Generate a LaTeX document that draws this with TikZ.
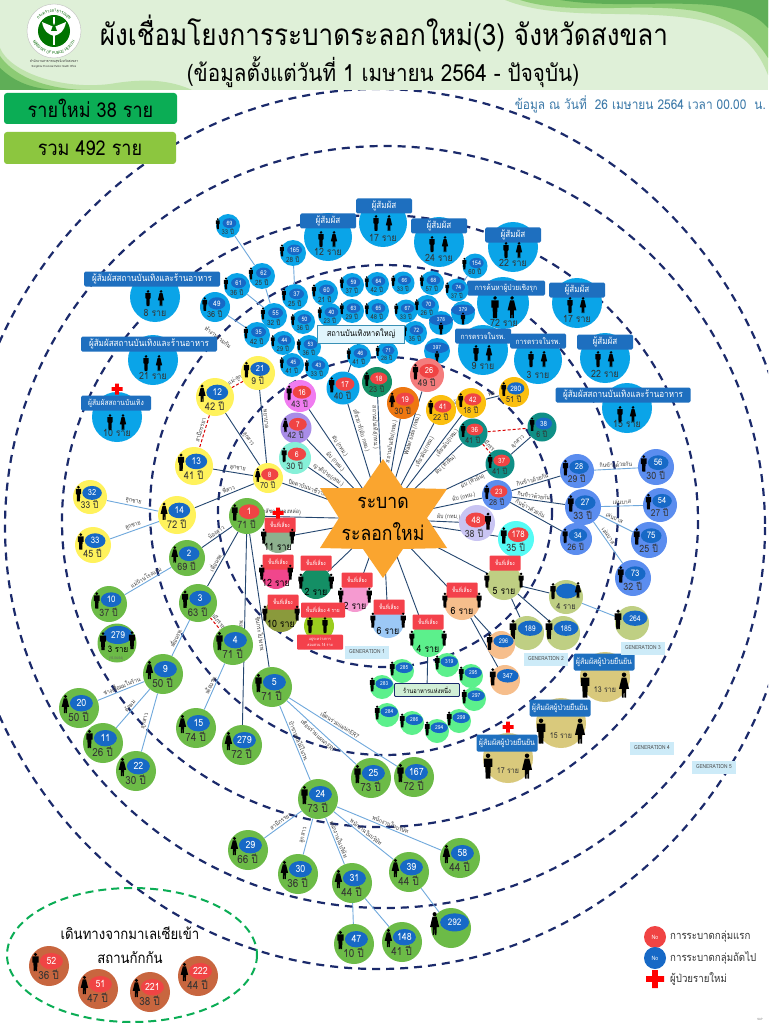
\documentclass[tikz,border=0pt]{standalone}
\usepackage{fontspec}
\setmainfont[Script=Thai,FakeStretch=.88]{Loma}
\usetikzlibrary{shapes.geometric,decorations.text}
\pgfdeclarelayer{rings}\pgfdeclarelayer{edges}\pgfsetlayers{rings,edges,main}
\definecolor{ringc}{HTML}{1B2A6B}
\definecolor{navyl}{HTML}{24466F}
\definecolor{ltl}{HTML}{6FA8DC}
\definecolor{clblue}{HTML}{0AA4E8}
\definecolor{ovb}{HTML}{1769C6}
\definecolor{ovr}{HTML}{F04444}
\definecolor{yel}{HTML}{FFF25C}
\definecolor{amb}{HTML}{FBBF0F}
\definecolor{grn}{HTML}{6CBB47}
\definecolor{peri}{HTML}{5B8DEF}
\definecolor{teal2}{HTML}{0F8F86}
\definecolor{hdrb}{HTML}{1E6FBF}
\definecolor{tan2}{HTML}{D9C97C}
\definecolor{olv}{HTML}{BFCF83}
\definecolor{mint}{HTML}{5CF08C}
\definecolor{peach}{HTML}{F6BE8C}
\definecolor{brwn}{HTML}{C8663F}
\definecolor{gentc}{HTML}{CDEBF8}
\definecolor{riskr}{HTML}{F4414B}
\definecolor{gdash}{HTML}{0BAD55}
\definecolor{hdrbg}{HTML}{DFF0D8}
\definecolor{swa}{HTML}{BFE3AC}
\definecolor{swb}{HTML}{8CCB74}
\definecolor{swc}{HTML}{5FAE57}
\definecolor{limeb}{HTML}{8CC63F}
\definecolor{starc}{HTML}{FAA52F}
\definecolor{datec}{HTML}{3A78A8}
\definecolor{c16f}{HTML}{F07CF0}
\definecolor{c18f}{HTML}{148F65}
\definecolor{c7f}{HTML}{A98DE8}
\definecolor{c6f}{HTML}{86F0D8}
\definecolor{c26f}{HTML}{F47C7C}
\definecolor{c19f}{HTML}{EE7711}
\definecolor{c48f}{HTML}{C9C4F2}
\definecolor{c178f}{HTML}{55FBF5}
\definecolor{r11f}{HTML}{8DB08E}
\definecolor{r12f}{HTML}{F0468C}
\definecolor{r10f}{HTML}{8A9A3C}
\definecolor{r2pf}{HTML}{F59AD0}
\definecolor{r6bf}{HTML}{9CC8F5}
\definecolor{r4sf}{HTML}{9ACD1E}
\tikzset{
 disk/.style={circle,inner sep=0pt,draw=none},
 oval/.style={ellipse,inner sep=0pt,draw=none,text=white},
 plain/.style={inner sep=0pt,text=black!80},
 nv/.style={draw=navyl,line width=.9pt},
 lt/.style={draw=ltl,line width=.9pt},
 rd/.style={draw=red!85!black,line width=1pt,dash pattern=on 3pt off 2pt},
 lb/.style={sloped,above=1pt,inner sep=.4pt,font=\fontsize{6}{6}\selectfont,text=black!75},
 ringl/.style={draw=ringc,line width=2.2pt,dash pattern=on 8pt off 6pt},
 hdrn/.style={rectangle,rounded corners=1.5pt,fill=hdrb,text=white,inner sep=0pt,minimum height=15pt,font=\fontsize{9.2}{9.2}\selectfont},
 riskn/.style={rectangle,rounded corners=1pt,fill=riskr,text=white,inner sep=0pt,font=\fontsize{5.5}{5.5}\selectfont},
 gent/.style={rectangle,fill=gentc,text=black!70,inner sep=0pt,minimum width=44pt,minimum height=13pt,font=\fontsize{5.5}{5.5}\selectfont},
}
\newcommand\smh{\fontsize{7.6}{7.6}\selectfont}
% person: x y height gender
\newcommand\psn[4]{\begin{scope}[shift={(#1,#2)},scale=#3]
 \fill[black] (0,-.41) circle[radius=.09];
 \if#4m\fill[black] (-.17,-.3) -- (.17,-.3) -- (.17,.03) -- (.11,.03) -- (.09,.5) -- (.01,.5) -- (0,.08) -- (-.01,.5) -- (-.09,.5) -- (-.11,.03) -- (-.17,.03) -- cycle;
 \else\fill[black] (-.09,-.3) -- (.09,-.3) -- (.2,.15) -- (.09,.15) -- (.08,.5) -- (.02,.5) -- (0,.15) -- (-.02,.5) -- (-.08,.5) -- (-.09,.15) -- (-.2,.15) -- cycle;\fi
 \end{scope}}
\newcommand\crossm[3]{\fill[red] (#1-#3,#2-.33*#3) rectangle (#1+#3,#2+.33*#3) (#1-.33*#3,#2-#3) rectangle (#1+.33*#3,#2+#3);}
% case with age: name x y r fill oval num age gender
\newcommand\cas[9]{%
 \pgfmathsetmacro\mydd{2*#4}\pgfmathsetmacro\myox{#2+.12*#4}\pgfmathsetmacro\myoy{#3-.24*#4}%
 \pgfmathsetmacro\myow{1.15*#4}\pgfmathsetmacro\myoh{.82*#4}\pgfmathsetmacro\myfs{.5*#4}%
 \pgfmathsetmacro\myax{#2-.02*#4}\pgfmathsetmacro\myay{#3+.46*#4}\pgfmathsetmacro\myaf{.56*#4}%
 \pgfmathsetmacro\mypx{#2-(#4<14?.85:.68)*#4}\pgfmathsetmacro\mypy{#3-.2*#4}\pgfmathsetmacro\myph{.92*#4}%
 \node[disk,fill=#5,minimum size=\mydd pt] (#1) at (#2,#3) {};
 \node[oval,fill=#6,minimum width=\myow pt,minimum height=\myoh pt,font=\fontsize{\myfs}{\myfs}\selectfont] (#1-o) at (\myox,\myoy) {#7};
 \node[plain,font=\fontsize{\myaf}{\myaf}\selectfont] (#1-a) at (\myax,\myay) {#8 ปี};
 \psn{\mypx}{\mypy}{\myph}{#9}}
% case without age: name x y r fill num gender
\newcommand\cna[7]{%
 \pgfmathsetmacro\mydd{2*#4}\pgfmathsetmacro\myox{#2+.18*#4}\pgfmathsetmacro\myoy{#3-.28*#4}%
 \pgfmathsetmacro\myow{1.45*#4}\pgfmathsetmacro\myoh{.9*#4}\pgfmathsetmacro\myfs{.46*#4}%
 \pgfmathsetmacro\mypx{#2-.82*#4}\pgfmathsetmacro\mypy{#3-.22*#4}\pgfmathsetmacro\myph{1.15*#4}%
 \node[disk,fill=#5,minimum size=\mydd pt] (#1) at (#2,#3) {};
 \node[oval,fill=ovb,minimum width=\myow pt,minimum height=\myoh pt,font=\fontsize{\myfs}{\myfs}\selectfont] (#1-o) at (\myox,\myoy) {#6};
 \psn{\mypx}{\mypy}{\myph}{#7}}
% case with person under oval: name x y r num
\newcommand\cbl[5]{%
 \pgfmathsetmacro\mydd{2*#4}\pgfmathsetmacro\myoy{#3-.25*#4}\pgfmathsetmacro\mypy{#3+.45*#4}%
 \node[disk,fill=clblue,minimum size=\mydd pt] (#1) at (#2,#3) {};
 \node[oval,fill=ovb,minimum width=24pt,minimum height=11pt,font=\fontsize{5.5}{5.5}\selectfont] (#1-o) at (#2,\myoy) {#5};
 \psn{#2}{\mypy}{12}{m}}
% blue group: name x y r hx hy hw header count
\newcommand\bgp[9]{%
 \pgfmathsetmacro\mydd{2*#4}\pgfmathsetmacro\myty{#3+.62*#4}%
 \node[disk,fill=clblue,minimum size=\mydd pt] (#1) at (#2,#3) {};
 \node[hdrn,minimum width=#7 pt] (#1-h) at (#5,#6) {#8};
 \node[plain,font=\fontsize{10}{10}\selectfont] (#1-t) at (#2,\myty) {#9};}
\newcommand\bpp[2]{\psn{#1-7}{#2+1}{16}{m}\psn{#1+6}{#2+1}{16}{f}}
% risk group: name x y r fill lx ly count
\newcommand\rgp[8]{%
 \pgfmathsetmacro\mydd{2*#4}\pgfmathsetmacro\mypl{#2-.95*#4}\pgfmathsetmacro\mypr{#2+.95*#4}\pgfmathsetmacro\mypy{#3-2}\pgfmathsetmacro\myty{#3+9}%
 \node[disk,fill=#5,minimum size=\mydd pt] (#1) at (#2,#3) {};
 \node[riskn,minimum width=31pt,minimum height=15pt] (#1-h) at (#6,#7) {พื้นที่เสี่ยง};
 \psn{\mypl}{\mypy}{15}{m}\psn{\mypr}{\mypy}{15}{m}
 \node[plain,font=\fontsize{10}{10}\selectfont,text=black] (#1-t) at (#2,\myty) {#8};}
% tan group: name x y count
\newcommand\tgp[4]{%
 \pgfmathsetmacro\myhx{#2-1}\pgfmathsetmacro\myhy{#3-15}\pgfmathsetmacro\mypl{#2-20}\pgfmathsetmacro\mypr{#2+19}\pgfmathsetmacro\mypy{#3+8}\pgfmathsetmacro\myty{#3+13}%
 \node[disk,fill=tan2,minimum size=50pt] (#1) at (#2,#3) {};
 \node[hdrn,minimum width=61pt,minimum height=17pt,font=\fontsize{8}{8}\selectfont] (#1-h) at (\myhx,\myhy) {ผู้สัมผัสผู้ป่วยยืนยัน};
 \psn{\mypl}{\mypy}{25}{m}\psn{\mypr}{\mypy}{25}{f}
 \node[plain,font=\fontsize{8}{8}\selectfont] (#1-t) at (#2,\myty) {#4};}
% small green: name x y num
\newcommand\mnt[4]{\cna{#1}{#2}{#3}{12}{mint}{#4}{m}}
\begin{document}
\begin{tikzpicture}[x=1pt,y=-1pt]
\useasboundingbox (0,0) rectangle (768,1024);
% rings
\begin{pgfonlayer}{rings}
\fill[white] (0,0) rectangle (768,1024);
\begin{scope}
\clip (0,0) rectangle (768,1024);
\draw[ringl] (385,512) ellipse[x radius=167,y radius=155];
\draw[ringl] (384,510) ellipse[x radius=234,y radius=245];
\draw[ringl] (380,521) ellipse[x radius=318,y radius=306];
\draw[ringl] (385,527) ellipse[x radius=380,y radius=381];
\draw[ringl] (378,529) ellipse[x radius=418,y radius=440];
\end{scope}
\end{pgfonlayer}
% header
\fill[hdrbg] (0,0) rectangle (768,90);
\begin{scope}
\clip (0,0) rectangle (768,90);
\fill[swa] (505,0) .. controls (560,22) and (640,8) .. (700,20) .. controls (735,28) and (755,42) .. (768,75) -- (768,0) -- cycle;
\fill[swb] (520,0) .. controls (570,16) and (640,2) .. (695,11) .. controls (730,18) and (752,32) .. (768,58) -- (768,0) -- cycle;
\fill[swc] (560,0) .. controls (610,8) and (660,1) .. (710,5) .. controls (740,8) and (758,16) .. (768,28) -- (768,0) -- cycle;
\fill[swa] (0,48) .. controls (10,72) and (60,90) .. (110,84) .. controls (145,78) and (170,80) .. (192,90) -- (0,90) -- cycle;
\fill[swb] (0,56) .. controls (15,78) and (50,90) .. (90,90) -- (0,90) -- cycle;
\fill[swc] (0,68) .. controls (15,82) and (30,88) .. (55,90) -- (0,90) -- cycle;
\end{scope}
% logo
\node[disk,fill=white,draw=black!25,line width=.4pt,minimum size=54pt] (logo) at (54,31) {};
\node[disk,fill=green!45!black,minimum size=32pt] (logoi) at (54,31) {};
\draw[white,line width=1.4pt] (54,17) -- (54,45);
\fill[white] (54,27) -- (42,22) .. controls (44,32) and (48,34) .. (54,36) .. controls (60,34) and (64,32) .. (66,22) -- cycle;
\fill[green!45!black] (54,23) -- (51,31) -- (57,31) -- cycle;
\begin{scope}[shift={(54,31)},x=1pt,y=1pt]
\path[decorate,decoration={text along path,text align=center,text={|\fontsize{4}{4}\selectfont\color{green!40!black}|MINISTRY OF PUBLIC HEALTH}}] (205:23.5) arc[start angle=205,end angle=335,radius=23.5];
\path[decorate,decoration={text along path,text align=center,text={|\fontsize{4.5}{4.5}\selectfont\color{green!40!black}|กระทรวงสาธารณ{สุ}ข}}] (150:19) arc[start angle=150,end angle=30,radius=19];
\end{scope}
\node[plain,font=\fontsize{3.6}{3.6}\selectfont] (lg1) at (54,62) {สำนักงานสาธารณสุขจังหวัดสงขลา};
\node[plain,font=\fontsize{2.8}{2.8}\selectfont] (lg2) at (54,66.5) {Songkhla Provincial Public Health Office};
\node[plain,text=black,font=\fontsize{29.7}{29.7}\selectfont] (title) at (384,33) {ผังเชื่อมโยงการระบาดระลอกใหม่(3) จังหวัดสงขลา};
\node[plain,text=black,font=\fontsize{23.5}{23.5}\selectfont] (sub) at (383,72) {(ข้อมูลตั้งแต่วันที่ 1 เมษายน 2564 - ปัจจุบัน)};
% top boxes
\node[rectangle,rounded corners=3pt,fill=gdash,minimum width=173pt,minimum height=31pt,text=black,inner sep=0pt,font=\fontsize{20.5}{20.5}\selectfont] (newb) at (90.5,108.5) {รายใหม่ 38 ราย};
\node[rectangle,rounded corners=3pt,fill=limeb,minimum width=172pt,minimum height=32pt,text=black,inner sep=0pt,font=\fontsize{20.5}{20.5}\selectfont] (totb) at (90,148) {รวม 492 ราย};
\node[plain,text=datec,anchor=east,font=\fontsize{13.5}{13.5}\selectfont] (date) at (766,104) {ข้อมูล ณ วันที่\ \ 26 เมษายน 2564 เวลา 00.00\ \ น.};
% star
\fill[starc] (383,459) -- (403,488) -- (447,489) -- (427,518) -- (447,548) -- (403,549) -- (383,578) -- (363,549) -- (320,548) -- (339,518) -- (320,488) -- (363,488) -- cycle;
\node[inner sep=0pt,align=center,text=black,font=\fontsize{20}{32}\selectfont] (outbreak) at (383,519) {ระบาด\\ระลอกใหม่};
% blue groups
\bgp{gA}{383}{223}{24}{384}{206}{56}{ผู้สัมผัส}{17 ราย}\bpp{383}{222}
\bgp{gB}{328}{237}{24}{328}{221}{56}{ผู้สัมผัส}{12 ราย}\bpp{328}{238}
\bgp{gC}{439}{242}{25}{439}{226}{56}{ผู้สัมผัส}{24 ราย}\bpp{439}{243}
\bgp{gD}{513}{247}{25}{513}{235}{56}{ผู้สัมผัส}{22 ราย}\bpp{513}{249}
\bgp{gE}{503}{303}{26}{506}{288}{78}{\smh การค้นหาผู้ป่วยเชิงรุก}{}
\psn{495}{307}{22}{m}\psn{512}{307}{22}{f}
\node[plain,font=\fontsize{10}{10}\selectfont] (gEt) at (504,323) {72 ราย};
\bgp{gF}{577}{303}{25}{577}{290}{56}{ผู้สัมผัส}{17 ราย}\bpp{577}{304}
\bgp{gG}{605}{358}{25}{605}{342}{56}{ผู้สัมผัส}{22 ราย}\bpp{605}{358}
\bgp{gH}{483}{350}{25}{483}{336}{56}{\smh การตรวจในรพ.}{9 ราย}\bpp{483}{352}
\bgp{gI}{538}{360}{24}{538}{341}{56}{\smh การตรวจในรพ.}{3 ราย}\bpp{538}{358}
\bgp{gJ}{627}{408}{25}{623}{395}{135}{ผู้สัมผัสสถานบันเทิงและร้านอาหาร}{15 ราย}\bpp{627}{413}
\bgp{gK}{155}{297}{25}{152}{279}{136}{ผู้สัมผัสสถานบันเทิงและร้านอาหาร}{8 ราย}\bpp{155}{297}
\bgp{gL}{153}{360}{25}{149}{344}{136}{ผู้สัมผัสสถานบันเทิงและร้านอาหาร}{21 ราย}\bpp{153}{362}
\bgp{gM}{117}{417}{25}{116}{403}{70}{\smh ผู้สัมผัสสถานบันเทิง}{10 ราย}\bpp{117}{421}
\crossm{117}{389}{5.5}
% top cluster
\cas{c69}{228}{226}{12}{clblue}{ovb}{69}{33}{m}
\cas{c165}{293}{253}{13}{clblue}{ovb}{165}{28}{m}
\cas{c62}{262}{276}{13}{clblue}{ovb}{62}{25}{m}
\cas{c61}{237}{286}{13}{clblue}{ovb}{61}{36}{m}
\cas{c49}{215}{307}{15}{clblue}{ovb}{49}{36}{m}
\cas{c37t}{295}{297}{13}{clblue}{ovb}{37}{25}{m}
\cas{c60}{325}{293}{13}{clblue}{ovb}{60}{21}{m}
\cas{c59}{352}{285}{12}{clblue}{ovb}{59}{37}{m}
\cas{c64}{377}{284}{12}{clblue}{ovb}{64}{42}{m}
\cas{c66}{403}{283}{11.5}{clblue}{ovb}{66}{33}{m}
\cas{c68}{432}{283}{12}{clblue}{ovb}{68}{57}{m}
\cas{c74}{457}{290}{11.5}{clblue}{ovb}{74}{37}{m}
\cas{c154}{475}{266}{12.5}{clblue}{ovb}{154}{60}{m}
\cas{c40}{330}{315}{12}{clblue}{ovb}{40}{23}{m}
\cas{c63}{352}{311}{12}{clblue}{ovb}{63}{29}{m}
\cas{c65}{377}{311}{12}{clblue}{ovb}{65}{48}{m}
\cas{c67}{406}{311}{11.5}{clblue}{ovb}{67}{33}{m}
\cas{c70}{427}{307}{12}{clblue}{ovb}{70}{26}{m}
\cas{c55}{274}{316}{13}{clblue}{ovb}{55}{32}{m}
\cas{c50}{303}{322}{12}{clblue}{ovb}{50}{36}{m}
\cas{c35}{257}{335}{13}{clblue}{ovb}{35}{42}{m}
\cas{c44}{283}{343}{12}{clblue}{ovb}{44}{29}{m}
\cas{c53}{309}{347}{12}{clblue}{ovb}{53}{36}{m}
\cas{c45}{292}{365}{12}{clblue}{ovb}{45}{41}{m}
\cas{c43}{317}{368}{12}{clblue}{ovb}{43}{33}{m}
\cas{c46}{359}{356}{12}{clblue}{ovb}{46}{41}{m}
\cas{c71}{387}{353}{11}{clblue}{ovb}{71}{28}{m}
\cas{c72}{415}{333}{12}{clblue}{ovb}{72}{35}{m}
\cbl{c379}{463}{313}{12}{379}
\cbl{c378}{441}{323}{12}{378}
\cbl{c397}{437}{351}{13}{397}
\node[rectangle,fill=cyan!12,draw=cyan!70!black,line width=1pt,inner sep=0pt,minimum width=87pt,minimum height=18pt,text=black,font=\fontsize{8.5}{8.5}\selectfont] (venue) at (361,334) {สถานบันเทิงหาดใหญ่};
% first-ring cases
\cas{c21}{258}{373}{17}{yel}{ovb}{21}{9}{m}
\cas{c12}{215}{397}{19}{yel}{ovb}{12}{42}{f}
\cas{c16}{300}{396}{16}{c16f}{ovr}{16}{43}{m}
\cas{c17}{343}{388}{16.5}{clblue}{ovr}{17}{40}{m}
\cas{c18}{377}{382}{15}{c18f}{ovr}{18}{23}{m}
\cas{c7}{296}{428}{15.5}{c7f}{ovr}{7}{42}{f}
\cas{c6}{295}{458}{16}{c6f}{ovr}{6}{30}{m}
\cas{c26}{427}{375}{17}{c26f}{ovr}{26}{49}{m}
\cas{c19}{403}{403}{16}{c19f}{ovr}{19}{30}{f}
\cas{c41}{441}{410}{15}{amb}{ovr}{41}{22}{m}
\cas{c42}{471}{403}{15}{amb}{ovr}{42}{18}{m}
\cas{c280}{514}{392}{15}{amb}{ovb}{280}{51}{m}
\cas{c36}{473}{433}{14.5}{teal2}{ovr}{36}{41}{m}
\cas{c38}{542}{427}{14.5}{teal2}{ovb}{38}{6}{m}
\cas{c37}{500}{464}{14.5}{teal2}{ovr}{37}{41}{m}
\cas{c23}{497}{495}{15}{peri}{ovr}{23}{28}{m}
\cas{c28}{577}{471}{17}{peri}{ovb}{28}{29}{m}
\cas{c56}{656}{467}{18}{peri}{ovb}{56}{30}{m}
\cas{c27}{583}{507}{18}{peri}{ovb}{27}{33}{m}
\cas{c54}{660}{505}{17}{peri}{ovb}{54}{27}{m}
\cas{c75}{649}{540}{18}{peri}{ovb}{75}{25}{m}
\cas{c34}{576}{539}{16}{peri}{ovb}{34}{26}{m}
\cas{c73}{633}{578}{18}{peri}{ovb}{73}{32}{m}
\node[disk,fill=c48f,minimum size=36pt] (c48) at (477,523) {};
\node[oval,fill=ovr,minimum width=21pt,minimum height=15pt,font=\fontsize{9}{9}\selectfont] (c48-o) at (476,520) {48};
\node[plain,font=\fontsize{10}{10}\selectfont] (c48-a) at (474,533) {38 ปี};
\psn{488}{521}{17}{m}
\cas{c178}{516}{539}{18}{c178f}{ovr}{178}{35}{m}
% left cases
\cas{c13}{194}{466}{19}{yel}{ovb}{13}{41}{m}
\cas{c8}{268}{478}{15}{yel}{ovr}{8}{70}{f}
\cas{c1}{247}{516}{18}{grn}{ovr}{1}{71}{m}
\cas{c14}{177}{515}{19}{yel}{ovb}{14}{72}{f}
\cas{c32}{90}{497}{17}{yel}{ovb}{32}{33}{m}
\cas{c33}{93}{545}{18}{yel}{ovb}{33}{45}{m}
\cas{c2}{187}{558}{18}{grn}{ovb}{2}{69}{f}
\cas{c10}{109}{604}{18}{grn}{ovb}{10}{37}{m}
\cas{c3}{198}{603}{19}{grn}{ovb}{3}{63}{m}
\cas{c4}{233}{645}{20}{grn}{ovb}{4}{71}{m}
\cas{c9}{163}{674}{20}{grn}{ovb}{9}{50}{f}
\cas{c5}{272}{687}{20}{grn}{ovb}{5}{71}{m}
\cas{c20}{79}{708}{20}{grn}{ovb}{20}{50}{f}
\cas{c11}{103}{743}{20}{grn}{ovb}{11}{26}{m}
\cas{c22}{136}{771}{20}{grn}{ovb}{22}{30}{f}
\cas{c15}{196}{728}{20}{grn}{ovb}{15}{74}{f}
\cas{c279}{242}{745}{20}{grn}{ovb}{279}{72}{f}
\cas{c25}{371}{778}{20}{grn}{ovb}{25}{73}{m}
\cas{c167}{414}{777}{20}{grn}{ovb}{167}{72}{m}
\cas{c24}{318}{799}{20}{grn}{ovb}{24}{73}{m}
\cas{c29}{248}{850}{20}{grn}{ovb}{29}{66}{f}
\cas{c30}{298}{874}{20}{grn}{ovb}{30}{36}{f}
\cas{c31}{352}{883}{20}{grn}{ovb}{31}{44}{f}
\cas{c39}{409}{872}{20}{grn}{ovb}{39}{44}{f}
\cas{c58}{460}{858}{20}{grn}{ovb}{58}{44}{f}
\cas{c47}{354}{944}{20}{grn}{ovb}{47}{10}{m}
\cas{c148}{402}{942}{20}{grn}{ovb}{148}{41}{f}
\cna{c292}{451}{928}{20}{grn}{292}{f}
% 279 group
\node[disk,fill=grn,minimum size=39pt] (g279) at (117,643) {};
\node[oval,fill=ovb,minimum width=29pt,minimum height=18pt,font=\fontsize{9.5}{9.5}\selectfont] (g279o) at (118,635) {279};
\psn{103}{641}{18}{m}\psn{132}{640}{18}{m}
\node[plain,text=black,font=\fontsize{9}{9}\selectfont] (g279t) at (118,649) {3 ราย};
\node[plain,font=\fontsize{3.5}{3.5}\selectfont,text=black!60] (g279d) at (116,659) {(15.04.64)};
% risk groups
\rgp{r11}{278}{538}{15}{r11f}{280}{525}{11 ราย}
\rgp{r12}{276}{574}{15}{r12f}{278}{562}{12 ราย}
\rgp{r2g}{316}{583}{16}{c18f}{316}{563}{2 ราย}
\rgp{r10}{281}{615}{17}{r10f}{283}{602}{10 ราย}
\rgp{r2p}{355}{597}{15}{r2pf}{357}{580}{2 ราย}
\rgp{r6b}{388}{622}{16}{r6bf}{389}{607}{6 ราย}
\rgp{r4g}{428}{640}{17}{mint}{428}{622}{4 ราย}
\rgp{r6o}{462}{602}{18}{peach}{462}{590}{6 ราย}
\rgp{r5}{504}{582}{18}{olv}{505}{563}{5 ราย}
\node[disk,fill=r4sf,minimum size=30pt] (r4s) at (319,626) {};
\node[riskn,minimum width=44pt,minimum height=15pt] (r4st) at (323,610) {พื้นที่เสี่ยง 4 ราย};
\psn{310}{625}{16}{m}\psn{325}{625}{16}{m}
\node[riskn,align=center,minimum width=46pt,minimum height=15pt,font=\fontsize{4}{6}\selectfont] (r4sb) at (320,642) {อยู่ระหว่างการ\\สอบสวน 14 ราย};
\crossm{278}{513}{5.5}
% right olive
\node[disk,fill=olv,minimum size=34pt] (r4o) at (566,597) {};
\node[oval,fill=ovb,minimum width=22pt,minimum height=15pt] (r4oo) at (567,591) {};
\psn{553}{591}{16}{m}\psn{578}{590}{16}{f}
\node[plain,font=\fontsize{8.5}{8.5}\selectfont] (r4ot) at (566,606) {4 ราย};
\cna{c264}{632}{623}{17}{olv}{264}{m}
\cna{c189}{527}{633}{17}{olv}{189}{m}
\cna{c185}{563}{633}{17}{olv}{185}{m}
\cna{c296}{501}{645}{14}{peach}{296}{m}
\cna{c347}{505}{680}{15}{peach}{347}{m}
% mint cluster
\mnt{c285}{402}{671}{285}\mnt{c283}{382}{687}{283}\mnt{c319}{447}{665}{319}\mnt{c295}{471}{676}{295}\mnt{c297}{474}{699}{297}\mnt{c284}{387}{715}{284}\mnt{c286}{412}{723}{286}\mnt{c294}{437}{731}{294}\mnt{c299}{459}{721}{299}
\node[rectangle,rounded corners=1pt,fill=cyan!10!green!18!white,draw=ringc,line width=.9pt,minimum width=65pt,minimum height=13pt,inner sep=0pt,text=black,font=\fontsize{6.5}{6.5}\selectfont] (rest) at (427,690) {ร้านอาหารแห่งหนึ่ง};
% tan groups
\tgp{t13}{605}{677}{13 ราย}
\tgp{t15}{561}{723}{15 ราย}
\tgp{t17}{508}{758}{17 ราย}
\crossm{508}{727}{5.5}
% generations
\node[gent] (gen1) at (367,652) {GENERATION 1};
\node[gent] (gen2) at (546,659) {GENERATION 2};
\node[gent] (gen3) at (643,648) {GENERATION 3};
\node[gent] (gen4) at (652,748) {GENERATION 4};
\node[gent] (gen5) at (714,767) {GENERATION 5};
% Malaysia group
\draw[gdash,line width=2pt,dash pattern=on 8pt off 5pt] (132,955) ellipse[x radius=125,y radius=67];
\node[plain,text=black,font=\fontsize{15}{15}\selectfont] (myt1) at (130,933) {เดินทางจากมาเลเซียเข้า};
\node[plain,text=black,font=\fontsize{15}{15}\selectfont] (myt2) at (130,958) {สถานกักกัน};
\cas{c52}{49}{966}{20}{brwn}{ovr}{52}{36}{m}
\cas{c51}{98}{989}{20}{brwn}{ovr}{51}{47}{f}
\cas{c221}{150}{992}{20}{brwn}{ovr}{221}{38}{f}
\cas{c222}{198}{976}{20}{brwn}{ovr}{222}{44}{f}
% legend
\node[disk,fill=ovr,minimum size=22pt,text=white,font=\fontsize{6}{6}\selectfont] (lg-r) at (655,937) {No};
\node[disk,fill=ovb,minimum size=22pt,text=white,font=\fontsize{6}{6}\selectfont] (lg-b) at (655,958) {No};
\crossm{655}{979}{9}
\node[plain,anchor=west,font=\fontsize{11}{11}\selectfont] (lgt1) at (670,937) {การระบาดกลุ่มแรก};
\node[plain,anchor=west,font=\fontsize{11}{11}\selectfont] (lgt2) at (670,958) {การระบาดกลุ่มถัดไป};
\node[plain,anchor=west,font=\fontsize{11}{11}\selectfont] (lgt3) at (670,979) {ผู้ป่วยรายใหม่};
\node[plain,font=\fontsize{3}{3}\selectfont,text=black!50] (sap) at (760,1019) {SAP};
% connectors
\begin{pgfonlayer}{edges}
\draw[nv] (c16) -- node[lb,pos=.45]{ผับ (กทม.)} (outbreak);
\draw[nv] (c7) -- node[lb,pos=.45]{ผับ (กทม.)} (outbreak);
\draw[nv] (c6) -- node[lb,pos=.4]{ญาติป่วย(กทม.)} (outbreak);
\draw[nv] (c17) -- node[lb,pos=.3]{เที่ยวบาร์(ผับ กทม.)} (outbreak);
\draw[nv] (c18) -- node[lb,pos=.3,below=1pt]{สถานบันเทิง(กทม.)} (outbreak);
\draw[nv] (c19) -- node[lb,pos=.3]{สถานบันเทิง(กทม.)} (outbreak);
\draw[nv] (c26) -- node[lb,pos=.4,below=1pt]{Water side (กทม.)} (outbreak);
\draw[nv] (c41) -- node[lb,pos=.35,below=1pt]{เที่ยวผับ(กทม.)} (outbreak);
\draw[nv] (c42) -- node[lb,pos=.3,below=1pt]{เที่ยวผับ(กทม.)} (outbreak);
\draw[nv] (c36) -- node[lb,pos=.35,below=1pt]{ผับ (หัวหิน)} (outbreak);
\draw[nv] (c37) -- node[lb,pos=.25,below=1pt]{ผับ (หัวหิน)} (outbreak);
\draw[nv] (c23) -- node[lb,pos=.3]{ผับ (กทม.)} (outbreak);
\draw[nv] (c48) -- node[lb,pos=.3]{ผับ (กทม.)} (outbreak);
\draw[nv] (c178) -- node[lb,pos=.4]{ภูเก็ต} (outbreak);
\draw[nv] (c8) -- node[lb,pos=.4]{ปิดตาบันนาชีวาส} (outbreak);
\draw[nv] (c1) -- node[lb,pos=.2]{เภสัชกร(ทองหล่อ)} (outbreak);
\draw[nv] (r11) -- (outbreak);
\draw[nv] (r2g) -- (outbreak);
\draw[nv] (r2p) -- (outbreak);
\draw[nv] (r6b) -- (outbreak);
\draw[nv] (r4g) -- (outbreak);
\draw[nv] (r6o) -- (outbreak);
\draw[nv] (r5) -- (outbreak);
\draw[nv] (c21) -- node[lb,pos=.4]{พยาบาล} (c8);
\draw[nv] (c12) -- node[lb,pos=.55]{ลูกสาว} (c8);
\draw[nv] (c13) -- node[lb,pos=.6]{ลูกชาย} (c8);
\draw[nv] (c14) -- node[lb,pos=.6]{พี่สาว} (c8);
\draw[rd] (c12) -- node[lb,pos=.5]{สามีภรรยา} (c13);
\draw[rd] (c12) -- node[lb,pos=.5]{แม่-ลูก} (c21);
\draw[lt] (c14) -- node[lb,pos=.5]{ลูกชาย} (c32);
\draw[lt] (c14) -- node[lb,pos=.5]{ลูกชาย} (c33);
\draw[nv] (c1) -- node[lb,pos=.45]{น้องสาว} (c2);
\draw[nv] (c1) -- node[lb,pos=.6]{เพื่อนรพ.} (c3);
\draw[nv] (c1) -- node[lb,pos=.5]{เพื่อนรพ.} (c279);
\draw[nv] (c1) -- node[lb,pos=.75,below=1pt]{ซินกระโปร่งรพ.} (c5);
\draw[rd] (c3) -- node[lb,pos=.5]{สามีภรรยา} (c4);
\draw[lt] (c2) -- node[lb,pos=.5]{แม่บ้านโรงแรม} (c10);
\draw[lt] (c3) -- node[lb,pos=.55]{เพื่อนรพ.} (c9);
\draw[lt] (c4) -- node[lb,pos=.5]{เพื่อนรพ.} (c15);
\draw[lt] (c9) -- node[lb,pos=.45]{ช่างเสื้อผมในร้าน} (c20);
\draw[lt] (c9) -- node[lb,pos=.5]{ตัดผม} (c11);
\draw[lt] (c9) -- node[lb,pos=.5]{ลูกสาว} (c22);
\draw[lt] (c5) -- node[lb,pos=.5]{ป้าขายผลไม้ในรพ.} (c24);
\draw[lt] (c5) -- node[lb,pos=.45]{เพื่อนร่วมแผนกER7} (c167);
\draw[lt] (c5) -- node[lb,pos=.5,below=1pt]{เพื่อนร่วมแผนกER7} (c25);
\draw[lt] (c24) -- node[lb,pos=.5]{สามีภรรยา} (c29);
\draw[lt] (c24) -- node[lb,pos=.5]{ลูกสาว} (c30);
\draw[lt] (c24) -- node[lb,pos=.5]{พนักงานในบริษัท} (c31);
\draw[lt] (c24) -- node[lb,pos=.5]{พนักงานในบริษัท} (c39);
\draw[lt] (c24) -- node[lb,pos=.5]{พนักงานในบริษัท} (c58);
\draw[lt] (c31) -- (c47);
\draw[lt] (c31) -- (c148);
\draw[lt] (c39) -- (c292);
\draw[lt] (c69) -- (c62);
\draw[lt] (c62) -- (c55);
\draw[lt] (c61) -- (c55);
\draw[lt] (c49) -- (c35);
\draw[lt] (c165) -- (c37t);
\draw[lt] (c154) -- (c74);
\draw[nv] (venue) -- (c17);
\node[plain,rotate=-38,font=\fontsize{6}{6}\selectfont] (work) at (218,337) {ทำงานร่วมกัน};
\draw[rd] (c41) -- node[lb,pos=.5]{พี่-น้อง} (c42);
\draw[nv] (c42) -- node[lb,pos=.5]{พ่อ} (c280);
\draw[rd] (c36) -- (c38);
\draw[rd] (c36) -- node[lb,pos=.5]{สามีภรรยา} (c37);
\draw[nv] (c37) -- node[lb,pos=.5]{ลูกสาว} (c38);
\draw[nv] (c23) -- node[lb,pos=.45]{กินข้าวด้วยกัน} (c28);
\draw[nv] (c23) -- node[lb,pos=.4]{กินข้าวด้วยกัน} (c27);
\draw[nv] (c23) -- node[lb,pos=.35]{กินข้าวด้วยกัน} (c34);
\draw[lt] (c28) -- node[lb,pos=.5]{กินข้าวด้วยกัน} (c56);
\draw[lt] (c27) -- node[lb,pos=.5]{เล่นบาส} (c54);
\draw[lt] (c27) -- node[lb,pos=.4]{เล่นบาส} (c75);
\draw[lt] (c27) -- node[lb,pos=.4]{เล่นบาส} (c73);
\draw[nv] (r5) -- (r4o);
\draw[nv] (r5) -- (c189);
\draw[nv] (r5) -- (c185);
\draw[lt] (r4o) -- (c264);
\draw[nv] (r6o) -- (c296);
\draw[nv] (r6o) -- (c347);
\draw[nv] (r4g) -- (rest);
\end{pgfonlayer}
\end{tikzpicture}
\end{document}
